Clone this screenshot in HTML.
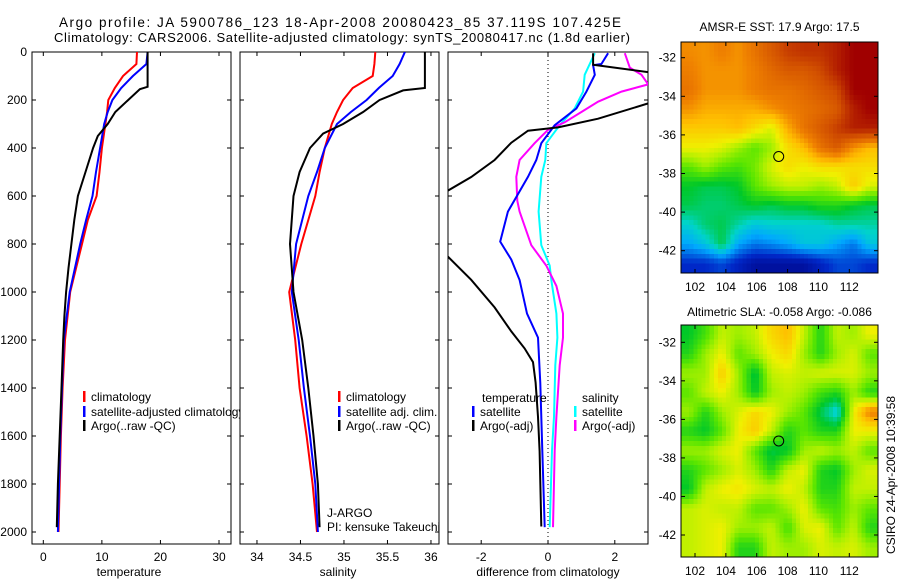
<!DOCTYPE html>
<html><head><meta charset="utf-8">
<style>
html,body{margin:0;padding:0;background:#fff;}
svg{display:block;font-family:"Liberation Sans",sans-serif;}
</style></head>
<body>
<svg id="chart" width="900" height="580" viewBox="0 0 900 580" xmlns="http://www.w3.org/2000/svg">
<defs>
<clipPath id="c1"><rect x="32" y="52" width="199" height="492"/></clipPath>
<clipPath id="c2"><rect x="240" y="52" width="199" height="492"/></clipPath>
<clipPath id="c3"><rect x="448" y="52" width="200" height="492"/></clipPath>
<clipPath id="cm1"><rect x="681" y="42" width="197" height="231"/></clipPath>
<clipPath id="cm2"><rect x="681" y="325" width="197" height="232"/></clipPath>
</defs>
<text x="340" y="27" font-size="13.5" text-anchor="middle" textLength="562">Argo profile: JA 5900786_123 18-Apr-2008 20080423_85 37.119S 107.425E</text>
<text x="342" y="42" font-size="13" text-anchor="middle" textLength="576">Climatology: CARS2006. Satellite-adjusted climatology: synTS_20080417.nc (1.8d earlier)</text>
<g id="g"></g>
</svg>
<script>
// ---------- temperature panel data ----------
const tDepthClim = [0,50,100,150,200,250,300,400,500,600,700,800,1000,1200,1400,1600,1800,2000];
const tClim = [16.0,15.9,13.6,12.2,11.1,10.9,10.6,10.0,9.6,9.1,7.6,6.6,4.6,3.7,3.3,3.0,2.8,2.6];
const tSat = [17.8,17.6,15.3,13.3,11.8,11.0,10.4,9.7,9.0,8.4,7.3,6.3,4.5,3.5,3.2,2.9,2.7,2.5];
const tDepthArgo = [0,145,155,200,250,300,350,400,500,600,700,800,900,1000,1100,1200,1400,1600,1800,1980];
const tArgo = [17.8,17.8,16.5,14.5,12.3,11.0,9.3,8.5,7.2,5.9,5.3,4.8,4.3,3.9,3.6,3.4,3.1,2.8,2.5,2.3];
// ---------- salinity panel data ----------
const sDepthClim = [0,50,100,150,200,250,300,400,500,600,800,1000,1200,1400,1600,1800,2000];
const sClim = [35.36,35.35,35.33,35.10,34.99,34.92,34.86,34.78,34.72,34.67,34.51,34.37,34.44,34.49,34.57,34.64,34.69];
const sSat = [35.70,35.64,35.56,35.40,35.26,35.08,34.92,34.78,34.69,34.59,34.45,34.40,34.48,34.54,34.61,34.67,34.70];
const sDepthArgo = [0,150,160,200,250,300,340,400,500,600,800,1000,1200,1400,1600,1800,1980];
const sArgo = [35.93,35.93,35.68,35.41,35.22,34.99,34.76,34.61,34.49,34.42,34.38,34.42,34.52,34.59,34.65,34.70,34.72];
// ---------- difference panel data ----------
const dTSatDepth = [5,50,55,95,165,235,305,380,450,520,665,790,865,950,1090,1190,1380,1660,1980];
const dTSat = [1.8,1.6,1.35,1.4,1.15,0.85,0.2,-0.2,-0.35,-0.6,-1.2,-1.43,-1.1,-0.85,-0.63,-0.3,-0.23,-0.17,-0.1];
const dSSatDepth = [5,95,165,235,305,380,450,520,665,805,890,950,1090,1190,1305,1520,1660,1980];
const dSSat = [1.4,1.1,1.05,0.8,0.35,-0.05,-0.08,-0.2,-0.28,-0.2,0.05,0.1,0.25,0.28,0.22,0.18,0.12,0.05];
const dSArgoDepth = [5,65,95,135,165,207,250,293,324,380,450,520,620,665,805,890,975,1090,1190,1305,1520,1660,1980];
const dSArgo = [2.3,2.45,2.8,3.0,2.2,1.5,1.0,0.5,0.0,-0.4,-0.85,-0.95,-0.92,-0.85,-0.5,-0.05,0.25,0.45,0.45,0.35,0.25,0.2,0.15];
const dTArgoDepth1 = [5,53,86,107];
const dTArgo1 = [1.35,1.35,3.1,4.0];
const dTArgoDepth2 = [193,214,278,314,328,378,450,521,578,607];
const dTArgo2 = [4.0,3.0,1.5,0.3,-0.6,-1.1,-1.6,-2.3,-3.0,-3.5];
const dTArgoDepth3 = [800,852,949,1064,1164,1235,1292,1377,1520,1663,1977];
const dTArgo3 = [-3.5,-3.0,-2.3,-1.6,-1.1,-0.7,-0.45,-0.37,-0.3,-0.25,-0.2];
// ---------- ticks ----------
const depthTicks = [0,200,400,600,800,1000,1200,1400,1600,1800,2000];
const tTicks = [0,10,20,30];
const sTicks = [34,34.5,35,35.5,36];
const sTickLabels = ["34","34.5","35","35.5","36"];
const dTicks = [-2,0,2];
const lonTicks = [102,104,106,108,110,112];
const latTicks = [-32,-34,-36,-38,-40,-42];
// ---------- map grids (rows north->south, cols west->east), normalized colour value ----------
const sstGrid = [
[.76,.75,.78,.75,.8,.85,.9,.92,.92,.95,1,1],
[.78,.75,.75,.75,.78,.82,.85,.85,.88,.95,1,1],
[.8,.75,.75,.75,.78,.8,.8,.82,.85,.88,1,1],
[.75,.72,.72,.72,.72,.75,.78,.8,.82,.85,.95,1],
[.68,.68,.68,.7,.65,.6,.72,.8,.85,.9,.95,.95],
[.62,.62,.6,.55,.5,.55,.65,.7,.8,.85,.75,.7],
[.5,.55,.5,.48,.52,.6,.65,.62,.65,.65,.65,.65],
[.42,.4,.4,.42,.5,.55,.58,.58,.55,.58,.68,.6],
[.4,.38,.38,.4,.42,.4,.42,.42,.45,.45,.42,.4],
[.32,.38,.4,.35,.3,.32,.32,.32,.32,.35,.35,.35],
[.25,.3,.4,.25,.2,.22,.25,.3,.3,.25,.2,.3],
[.12,.12,.15,.1,.05,.05,.05,.05,.1,.15,.15,.12]];
const slaGrid = [
[.42,.48,.58,.55,.58,.66,.7,.58,.45,.58,.55,.62],
[.45,.55,.62,.5,.55,.62,.66,.55,.45,.55,.6,.5],
[.55,.55,.68,.55,.4,.58,.6,.58,.6,.6,.6,.55],
[.5,.58,.62,.55,.42,.55,.58,.55,.48,.45,.55,.45],
[.55,.45,.55,.6,.66,.62,.55,.5,.4,.3,.62,.78],
[.45,.42,.5,.62,.68,.58,.45,.5,.45,.45,.62,.62],
[.55,.55,.6,.62,.5,.4,.42,.55,.58,.55,.58,.5],
[.45,.5,.55,.6,.55,.45,.58,.62,.45,.42,.55,.6],
[.42,.58,.62,.64,.6,.58,.62,.58,.45,.45,.58,.58],
[.58,.6,.58,.58,.5,.5,.55,.62,.5,.48,.55,.5],
[.58,.6,.62,.55,.55,.58,.48,.6,.62,.5,.58,.45],
[.58,.6,.62,.45,.45,.58,.55,.55,.6,.58,.6,.55]];
const floatLon = 107.425, floatLat = -37.119;

const NS="http://www.w3.org/2000/svg";
const G=document.getElementById('g');
function el(tag,attrs,parent){const e=document.createElementNS(NS,tag);for(const k in attrs)e.setAttribute(k,attrs[k]);(parent||G).appendChild(e);return e;}
function txt(x,y,s,size,anchor,parent){const t=el('text',{x:x,y:y,'font-size':size,'text-anchor':anchor||'start'},parent);t.textContent=s;return t;}

const yD=d=>52+0.24*d;
const xT=v=>32+(v+1.93)*5.857;
const xS=v=>240+(v-33.805)*87;
const xDf=v=>548+v*33.4;

function line(xs,ds,xf,color,clip,name,w){
  const pts=xs.map((v,i)=>xf(v).toFixed(1)+','+yD(ds[i]).toFixed(1)).join(' ');
  const p=el('polyline',{points:pts,fill:'none',stroke:color,'stroke-width':w||2,'clip-path':'url(#'+clip+')'});
  
  
}
function panel(x0,w,ticks,labels,xf,name,xlabel,cx){
  const r=el('rect',{x:x0,y:52,width:w,height:492,fill:'#fff',stroke:'#000','stroke-width':1});
  
  
  depthTicks.forEach(d=>{const y=yD(d);
    el('line',{x1:x0,x2:x0+4,y1:y,y2:y,stroke:'#000'});
    el('line',{x1:x0+w-4,x2:x0+w,y1:y,y2:y,stroke:'#000'});});
  ticks.forEach((v,i)=>{const x=xf(v);
    el('line',{x1:x,x2:x,y1:544,y2:540,stroke:'#000'});
    el('line',{x1:x,x2:x,y1:52,y2:56,stroke:'#000'});
    const t=txt(x,561,labels[i],12,'middle');
    
    });
  const t=txt(cx,576,xlabel,12,'middle');
  
  
}
function legend(x,y,color,label,name){
  el('rect',{x:x,y:y-10,width:2.5,height:11,fill:color});
  const t=txt(x+8,y,label,12,'start');
  
  
}

// Panel 1
panel(32,199,tTicks,tTicks.map(String),xT,'temperature-panel','temperature',129);
depthTicks.forEach(d=>{const t=txt(27,yD(d)+4,String(d),12,'end');
  
  });
line(tClim,tDepthClim,xT,'#f00','c1','temp-climatology-line');
line(tSat,tDepthClim,xT,'#00f','c1','temp-satellite-line');
line(tArgo,tDepthArgo,xT,'#000','c1','temp-argo-line');
legend(83,401,'#f00','climatology','legend-climatology');
legend(83,416,'#00f','satellite-adjusted climatology','legend-satellite-adjusted');
legend(83,430,'#000','Argo(..raw -QC)','legend-argo-raw');

// Panel 2
panel(240,199,sTicks,sTickLabels,xS,'salinity-panel','salinity',338);
line(sClim,sDepthClim,xS,'#f00','c2','sal-climatology-line');
line(sSat,sDepthClim,xS,'#00f','c2','sal-satellite-line');
line(sArgo,sDepthArgo,xS,'#000','c2','sal-argo-line');
legend(338,401,'#f00','climatology','legend-sal-climatology');
legend(338,416,'#00f','satellite adj. clim.','legend-sal-satellite');
legend(338,430,'#000','Argo(..raw -QC)','legend-sal-argo');
let t1=txt(327,517,'J-ARGO',12,'start');
t1=txt(327,531,'PI: kensuke Takeuchi',12,'start');

// Panel 3
panel(448,200,dTicks,dTicks.map(String),xDf,'difference-panel','difference from climatology',548);
el('line',{x1:548,x2:548,y1:52,y2:544,stroke:'#000','stroke-dasharray':'1,3'});
line(dSSat,dSSatDepth,xDf,'#0ff','c3','diff-sal-satellite-line');
line(dSArgo,dSArgoDepth,xDf,'#f0f','c3','diff-sal-argo-line');
line(dTSat,dTSatDepth,xDf,'#00f','c3','diff-temp-satellite-line');
line(dTArgo1,dTArgoDepth1,xDf,'#000','c3','diff-temp-argo-line');
line(dTArgo2,dTArgoDepth2,xDf,'#000','c3','diff-temp-argo-line');
line(dTArgo3,dTArgoDepth3,xDf,'#000','c3','diff-temp-argo-line');
t1=txt(482,402,'temperature',12,'start');
t1=txt(582,402,'salinity',12,'start');
legend(472,416,'#00f','satellite','legend-diff-temp-satellite');
legend(472,430,'#000','Argo(-adj)','legend-diff-temp-argo');
legend(574,416,'#0ff','satellite','legend-diff-sal-satellite');
legend(574,430,'#f0f','Argo(-adj)','legend-diff-sal-argo');

// colormap
const stops=[[0,[0,0,130]],[.12,[0,40,200]],[.25,[0,168,255]],[.33,[0,212,200]],[.42,[0,200,40]],[.5,[90,230,0]],[.56,[170,240,0]],[.62,[240,240,0]],[.7,[255,190,0]],[.77,[240,130,0]],[.87,[210,80,0]],[1,[160,0,0]]];
function cmap(v){v=Math.max(0,Math.min(1,v));for(let i=1;i<stops.length;i++){if(v<=stops[i][0]){const a=stops[i-1],b=stops[i],f=(v-a[0])/(b[0]-a[0]);return 'rgb('+a[1].map((c,k)=>Math.round(c+(b[1][k]-c)*f)).join(',')+')';}}return 'rgb(160,0,0)';}

// bilinear sample of grid at fractional (row, col)
function sample(grid,r,c){
  const R=grid.length-1,C=grid[0].length-1;
  r=Math.max(0,Math.min(R,r));c=Math.max(0,Math.min(C,c));
  const r0=Math.floor(r),c0=Math.floor(c),r1=Math.min(R,r0+1),c1=Math.min(C,c0+1),fr=r-r0,fc=c-c0;
  return (grid[r0][c0]*(1-fc)+grid[r0][c1]*fc)*(1-fr)+(grid[r1][c0]*(1-fc)+grid[r1][c1]*fc)*fr;
}

function mapPanel(grid,bx,by,bw,bh,yLat,clip,name,title,ty){
  const xLon=l=>695+(l-102)*15.43;
  const g=el('g',{'clip-path':'url(#'+clip+')','shape-rendering':'crispEdges'});
  
  
  const rows=grid.length,cols=grid[0].length,sub=4;
  const nr=rows*sub,nc=cols*sub,cw=bw/nc,ch=bh/nr;
  for(let r=0;r<nr;r++)for(let c=0;c<nc;c++){
    const v=sample(grid,(r+0.5)/sub-0.5,(c+0.5)/sub-0.5);
    const cell=el('rect',{x:(bx+c*cw).toFixed(2),y:(by+r*ch).toFixed(2),width:(cw+0.6).toFixed(2),height:(ch+0.6).toFixed(2),fill:cmap(v)},g);
    
    
  }
  const f=el('rect',{x:bx,y:by,width:bw,height:bh,fill:'none',stroke:'#000'});
  
  
  lonTicks.forEach(l=>{const x=xLon(l);
    el('line',{x1:x,x2:x,y1:by,y2:by+4,stroke:'#000'});
    el('line',{x1:x,x2:x,y1:by+bh,y2:by+bh-4,stroke:'#000'});
    const t=txt(x,by+bh+18,String(l),12,'middle');
    
    });
  latTicks.forEach(l=>{const y=yLat(l);
    el('line',{x1:bx,x2:bx+4,y1:y,y2:y,stroke:'#000'});
    el('line',{x1:bx+bw,x2:bx+bw-4,y1:y,y2:y,stroke:'#000'});
    const t=txt(676,y+4,String(l),12,'end');
    
    });
  const c=el('circle',{cx:xLon(floatLon),cy:yLat(floatLat),r:5,fill:'none',stroke:'#000','stroke-width':1});
  
  
  const t=txt(bx+bw/2,ty,title,12,'middle');
  
  
}
mapPanel(sstGrid,681,42,197,231,l=>57.7+(-32-l)*19.3,'cm1','sst-map','AMSR-E SST: 17.9 Argo: 17.5',31);
mapPanel(slaGrid,681,325,197,232,l=>342.3+(-32-l)*19.27,'cm2','sla-map','Altimetric SLA: -0.058 Argo: -0.086',316);
const ts=txt(0,0,'CSIRO 24-Apr-2008 10:39:58',12,'middle');
ts.setAttribute('transform','translate(895,475) rotate(-90)');


</script>
</body></html>
